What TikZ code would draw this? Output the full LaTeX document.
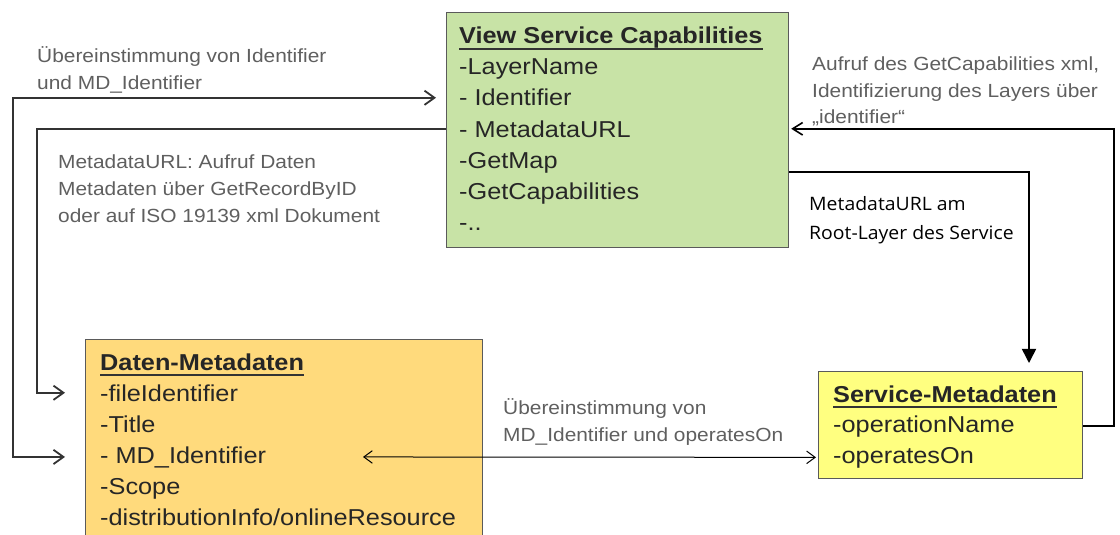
\documentclass[tikz,border=0pt]{standalone}
\usepackage{fontspec}
\setmainfont{Liberation Sans}[FakeStretch=1.1]
\newfontfamily\notefont{Open Sans}[FakeStretch=1.05]
\usetikzlibrary{arrows.meta, calc}
\definecolor{capgreen}{HTML}{C8E3A6}
\definecolor{datorange}{HTML}{FFDA7C}
\definecolor{srvyellow}{HTML}{FFFF80}
\definecolor{boxline}{HTML}{5A5A5A}
\definecolor{notegray}{HTML}{5F5F5F}
\definecolor{linkgray}{HTML}{333333}
\tikzset{
  umlbox/.style={draw=boxline, line width=1.2pt, anchor=north west, inner sep=0pt},
  entry/.style={anchor=base west, inner sep=0pt, text=black!85, font=\fontsize{23}{28}\selectfont},
  heading/.style={entry, font=\fontsize{23}{28}\selectfont\bfseries},
  headline/.style={line width=1.8pt, color=black!80},
  note/.style={anchor=base west, inner sep=0pt, align=left, text=notegray, font=\fontsize{19}{27}\selectfont},
  link/.style={-{Straight Barb[length=3.5mm, width=5mm]}, line width=1.8pt, color=linkgray},
  match/.style={{Straight Barb[length=3.5mm, width=5mm]}-{Straight Barb[length=3.5mm, width=5mm]}, line width=1.8pt, color=linkgray},
  call/.style={-{Straight Barb[length=3.5mm, width=4.4mm]}, line width=1.6pt},
  rootlink/.style={-{Triangle[length=5mm, width=5mm]}, line width=1.6pt},
  idlink/.style={{Straight Barb[length=3mm, width=4.4mm]}-{Straight Barb[length=3mm, width=4.4mm]}, line width=1pt}
}

\begin{document}
\begin{tikzpicture}[x=1pt, y=-1pt]
\useasboundingbox (0,0) rectangle (1120,535);

% boxes
\node[umlbox, fill=capgreen, minimum width=342, minimum height=235] (vsc) at (446,12) {};
\node[umlbox, fill=datorange, minimum width=397, minimum height=220] (dm) at (85,339) {};
\node[umlbox, fill=srvyellow, minimum width=264, minimum height=107] (sm) at (818,371) {};

% View Service Capabilities
\node[heading] (vsct) at (459,44) {View Service Capabilities};
\draw[headline] ([yshift=-5pt]vsct.base west) -- ([yshift=-5pt]vsct.base east);
\foreach \txt [count=\i] in {-LayerName, - Identifier, - MetadataURL, -GetMap, -GetCapabilities, -..}
  \node[entry] (g\i) at (459,44+31*\i) {\txt};

% Daten-Metadaten
\node[heading] (dmt) at (100,370) {Daten-Metadaten};
\draw[headline] ([yshift=-5pt]dmt.base west) -- ([yshift=-5pt]dmt.base east);
\foreach \txt [count=\i] in {-fileIdentifier, -Title, - MD\_Identifier, -Scope, -distributionInfo/onlineResource}
  \node[entry] (d\i) at (100,370+31*\i) {\txt};

% Service-Metadaten
\node[heading] (smt) at (833,402) {Service-Metadaten};
\draw[headline] ([yshift=-5pt]smt.base west) -- ([yshift=-5pt]smt.base east);
\foreach \txt [count=\i] in {-operationName, -operatesOn}
  \node[entry] (s\i) at (833,401+31*\i) {\txt};

% notes (base sits just under the last line)
\node[note] (n1) at (37,89) {Übereinstimmung von Identifier\\und MD\_Identifier};
\node[note] (n2) at (58,222) {MetadataURL: Aufruf Daten\\Metadaten über GetRecordByID\\oder auf ISO 19139 xml Dokument};
\node[note, font=\fontsize{19}{26}\selectfont] (n3) at (812,123) {Aufruf des GetCapabilities xml,\\Identifizierung des Layers über\\„identifier“};
\node[note, text=black, font=\notefont\fontsize{18.5}{29}\selectfont] (n4) at (809,239) {MetadataURL am\\Root-Layer des Service};
\node[note] (n5) at (503,441) {Übereinstimmung von\\MD\_Identifier und operatesOn};

% connectors
\coordinate (outer) at (13,0);
\coordinate (inner) at (37,0);
\coordinate (side) at (1114,0);
\coordinate (root) at (1029,172);
\coordinate (mdend) at (363,0);

\draw[match, shorten <=10pt, shorten >=20pt] (vsc.west |- g2) -- (outer |- g2) -- (outer |- d3) -- (dm.west |- d3);
\draw[link, shorten >=20pt] (vsc.west |- g3) -- (inner |- g3) -- (inner |- d1) -- (dm.west |- d1);
\draw[call, shorten >=2pt] (sm.east |- s1) -- (side |- s1) -- (side |- g3) -- (vsc.east |- g3);
\draw[rootlink, shorten >=8pt] (vsc.east |- root) -- (root) -- (sm.north -| root);
\draw[idlink, shorten >=2pt] (mdend |- d3) -- (sm.west |- s2);
\end{tikzpicture}
\end{document}
